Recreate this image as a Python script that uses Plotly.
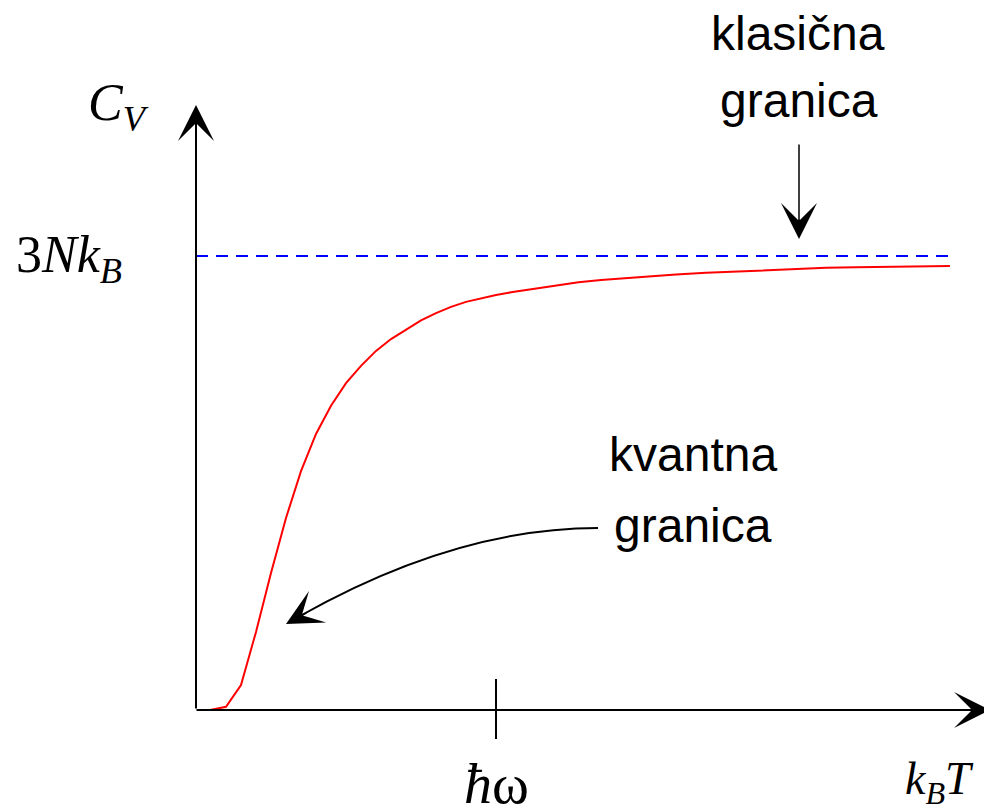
import plotly.graph_objects as go

# ---- data ----
# temperature in units of hbar*omega / k_B
t_vals = [0.047, 0.10, 0.15, 0.20, 0.25, 0.30, 0.35, 0.40, 0.45, 0.50, 0.55, 0.60, 0.65,
          0.70, 0.75, 0.80, 0.85, 0.90, 0.95, 1.00, 1.05, 1.10, 1.15, 1.20, 1.275, 1.35,
          1.425, 1.50, 1.60, 1.70, 1.80, 1.90, 2.00, 2.10, 2.20, 2.30, 2.40, 2.513]
# heat capacity in units of 3 N k_B
c_vals = [0.0, 0.007, 0.055, 0.172, 0.302, 0.423, 0.526, 0.608, 0.670, 0.720, 0.758, 0.791, 0.817,
          0.838, 0.858, 0.874, 0.888, 0.899, 0.907, 0.914, 0.920, 0.925, 0.931, 0.936, 0.942, 0.947,
          0.951, 0.954, 0.959, 0.963, 0.966, 0.969, 0.972, 0.974, 0.975, 0.976, 0.977, 0.978]
classical_t = [0.0, 2.513]
classical_c = [1.0, 1.0]
tick_t = [1.0]
tick_labels = ["<i>ħ</i>ω"]

W, H = 992, 810
OFF = 8                    # page body margin
X0, Y0 = 196 - OFF, 710 - OFF   # figure-pixel position of origin
SX, SY = 300.0, 454.0      # pixels per unit

x_range = [(0 - X0) / SX, (W - X0) / SX]
y_range = [(Y0 - H) / SY, (Y0 - 0) / SY]


def P(px, py):
    """page pixel -> paper coordinates (decoration only)"""
    return (px - OFF) / W, 1 - (py - OFF) / H


def DY(py):
    return (Y0 - (py - OFF)) / SY


def DX(px):
    return ((px - OFF) - X0) / SX


fig = go.Figure()
fig.add_trace(go.Scatter(x=classical_t, y=classical_c, mode="lines",
                         line=dict(color="#0000ff", width=2, dash="12px,8px"),
                         hoverinfo="skip", showlegend=False))
fig.add_trace(go.Scatter(x=t_vals, y=c_vals, mode="lines",
                         line=dict(color="#ff0000", width=2),
                         showlegend=False))

annotations = []
# axes with arrowheads
annotations.append(dict(x=0, y=DY(105), xref="x", yref="y", ax=0, ay=605,
                        text="", showarrow=True, arrowhead=3, arrowsize=3, arrowwidth=2,
                        arrowcolor="black", standoff=0))
annotations.append(dict(x=DX(990), y=0, xref="x", yref="y", ax=-795, ay=0,
                        text="", showarrow=True, arrowhead=3, arrowsize=3, arrowwidth=2,
                        arrowcolor="black", standoff=0))
# klasicna arrow
ax_, ay_ = P(799, 239)
annotations.append(dict(x=ax_, y=ay_, xref="paper", yref="paper", ax=0, ay=-96,
                        text="", showarrow=True, arrowhead=3, arrowsize=4, arrowwidth=1.5,
                        arrowcolor="black", standoff=0))
# kvantna arrow head
kx, ky = P(286, 624)
annotations.append(dict(x=kx, y=ky, xref="paper", yref="paper", ax=22, ay=-12,
                        text="", showarrow=True, arrowhead=3, arrowsize=4, arrowwidth=1.5,
                        arrowcolor="black", standoff=0))

sans = dict(family="Liberation Sans, Arial", size=48, color="black")
serif = dict(family="Liberation Serif, Times New Roman", size=52, color="black")


def label(text, px, py, font, xanchor="center"):
    x, y = P(px, py)
    annotations.append(dict(x=x, y=y, xref="paper", yref="paper", text=text,
                            showarrow=False, font=font, xanchor=xanchor, yanchor="middle"))


label("klasična", 798, 33, sans)
label("granica", 799, 100, sans)
label("kvantna", 693, 455, sans)
label("granica", 693, 525, sans)
label("<i>C</i><sub><i>V</i></sub>", 86, 106, serif, "left")
label("3<i>Nk</i><sub><i>B</i></sub>", 14, 258, serif, "left")
label("<i>k</i><sub><i>B</i></sub><i>T</i>", 903, 782, dict(serif, size=46), "left")
for tv, tl in zip(tick_t, tick_labels):
    x, _ = P(196 + tv * SX, 0)
    _, y = P(0, 784)
    annotations.append(dict(x=x, y=y, xref="paper", yref="paper", text=tl,
                            showarrow=False, font=dict(serif, size=56),
                            xanchor="center", yanchor="middle"))

shapes = []
# tick mark at hbar*omega
for tv in tick_t:
    shapes.append(dict(type="line", xref="x", yref="y", x0=tv, x1=tv,
                       y0=DY(679), y1=DY(739),
                       line=dict(color="black", width=2)))
# curved arrow for "kvantna granica"
p0 = P(598, 528)
c1 = P(456, 528)
p2 = P(300, 616)
shapes.append(dict(type="path", xref="paper", yref="paper",
                   path=f"M {p0[0]},{p0[1]} Q {c1[0]},{c1[1]} {p2[0]},{p2[1]}",
                   line=dict(color="black", width=2)))

fig.update_layout(
    width=W, height=H, margin=dict(l=0, r=0, t=0, b=0),
    paper_bgcolor="white", plot_bgcolor="white",
    xaxis=dict(range=x_range, visible=False, fixedrange=True),
    yaxis=dict(range=y_range, visible=False, fixedrange=True),
    annotations=annotations, shapes=shapes, showlegend=False,
)

fig.write_html("out.html")
